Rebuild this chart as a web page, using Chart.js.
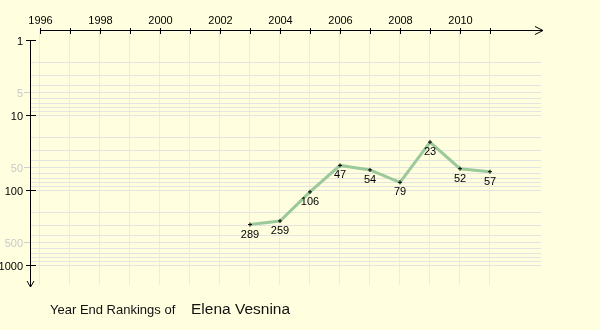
<!DOCTYPE html>
<html>
<head>
<meta charset="utf-8">
<title>Year End Rankings of Elena Vesnina</title>
<script src="https://cdn.jsdelivr.net/npm/chart.js@4/dist/chart.umd.min.js"></script>
<style>
  html, body { margin: 0; padding: 0; background: #ffffe0; }
  canvas { display: block; }
</style>
</head>
<body>
<canvas id="chart" width="600" height="330"></canvas>
<script>
// Year-end singles ranking by season
const years = [2003, 2004, 2005, 2006, 2007, 2008, 2009, 2010, 2011];
const ranks = [289, 259, 106, 47, 54, 79, 23, 52, 57];

// Axis ticks
const yearTicks = [1996, 1997, 1998, 1999, 2000, 2001, 2002, 2003, 2004, 2005, 2006, 2007, 2008, 2009, 2010, 2011];
const yearLabels = [1996, 1998, 2000, 2002, 2004, 2006, 2008, 2010];
const majorRanks = [1, 10, 100, 1000];
const minorRanks = [5, 50, 500];
const gridRanks = [2, 3, 4, 5, 6, 7, 8, 9, 10, 20, 30, 40, 50, 60, 70, 80, 90,
                   100, 200, 300, 400, 500, 600, 700, 800, 900, 1000];

const titleText = 'Year End Rankings of';
const playerName = 'Elena Vesnina';

const BG = '#ffffe0';
const FONT = '"Liberation Sans", Arial, sans-serif';

const background = {
  id: 'background',
  beforeDraw(chart) {
    const ctx = chart.ctx;
    ctx.save();
    ctx.fillStyle = BG;
    ctx.fillRect(0, 0, chart.width, chart.height);
    ctx.restore();
  }
};

// Axis lines with arrowheads, tick marks and tick labels
const axes = {
  id: 'axes',
  afterDraw(chart) {
    const ctx = chart.ctx;
    const xs = chart.scales.x, ys = chart.scales.y;
    const px = v => Math.round(xs.getPixelForValue(v)) + 0.5;
    const py = v => Math.round(ys.getPixelForValue(v)) + 0.5;
    const axisY = 30.5, axisX = 30.5;
    ctx.save();
    ctx.strokeStyle = '#000';
    ctx.lineWidth = 1;

    // top year axis
    ctx.beginPath();
    ctx.moveTo(px(1996), axisY);
    ctx.lineTo(543, axisY);
    ctx.moveTo(535, 26.5);
    ctx.lineTo(543, axisY);
    ctx.lineTo(535, 34.5);
    yearTicks.forEach(y => {
      ctx.moveTo(px(y), 28);
      ctx.lineTo(px(y), 34);
    });
    ctx.stroke();

    ctx.fillStyle = '#000';
    ctx.font = '11px ' + FONT;
    ctx.textAlign = 'center';
    ctx.textBaseline = 'alphabetic';
    yearLabels.forEach(y => ctx.fillText(String(y), px(y), 24));

    // left rank axis (reversed log)
    ctx.beginPath();
    ctx.moveTo(axisX, py(1));
    ctx.lineTo(axisX, 287);
    ctx.moveTo(27, 281);
    ctx.lineTo(axisX, 287);
    ctx.lineTo(34, 281);
    majorRanks.forEach(r => {
      ctx.moveTo(26, py(r));
      ctx.lineTo(36, py(r));
    });
    ctx.stroke();

    ctx.strokeStyle = '#cfcfcf';
    ctx.beginPath();
    minorRanks.forEach(r => {
      ctx.moveTo(24, py(r));
      ctx.lineTo(30, py(r));
    });
    ctx.stroke();

    ctx.textAlign = 'right';
    majorRanks.forEach(r => {
      ctx.fillStyle = '#000';
      ctx.fillText(String(r), 23, py(r) + 4);
    });
    minorRanks.forEach(r => {
      ctx.fillStyle = '#c8c8c8';
      ctx.fillText(String(r), 23, py(r) + 4);
    });

    // caption
    ctx.fillStyle = '#111';
    ctx.textAlign = 'left';
    ctx.font = '13px ' + FONT;
    ctx.fillText(titleText, 50, 314);
    ctx.font = '15.5px ' + FONT;
    ctx.fillText(playerName, 191, 314);
    ctx.restore();
  }
};

// Rank value under each point
const valueLabels = {
  id: 'valueLabels',
  afterDatasetsDraw(chart) {
    const ctx = chart.ctx;
    const meta = chart.getDatasetMeta(0);
    ctx.save();
    ctx.fillStyle = '#000';
    ctx.font = '11px ' + FONT;
    ctx.textAlign = 'center';
    ctx.textBaseline = 'alphabetic';
    meta.data.forEach((pt, i) => {
      ctx.fillText(String(ranks[i]), pt.x, pt.y + 13);
    });
    ctx.restore();
  }
};

new Chart(document.getElementById('chart'), {
  type: 'line',
  data: {
    datasets: [{
      data: years.map((y, i) => ({ x: y, y: ranks[i] })),
      borderColor: '#9bc99a',
      borderWidth: 3,
      tension: 0,
      pointStyle: 'cross',
      pointRadius: 2,
      pointBorderColor: '#000',
      pointBackgroundColor: '#000',
      pointBorderWidth: 1,
      clip: false
    }]
  },
  options: {
    responsive: false,
    animation: false,
    devicePixelRatio: 1,
    layout: { padding: { left: 30, right: 59, top: 31, bottom: 45 } },
    plugins: { legend: { display: false }, tooltip: { enabled: false } },
    scales: {
      x: {
        type: 'linear',
        min: 1996 - 10 / 30,
        max: 1996 + 501 / 30,
        bounds: 'data',
        border: { display: false },
        ticks: { display: false },
        grid: { drawTicks: false, color: '#ebebeb', lineWidth: 1 },
        afterBuildTicks: s => { s.ticks = yearTicks.map(v => ({ value: v })); }
      },
      y: {
        type: 'logarithmic',
        reverse: true,
        min: Math.pow(10, -9 / 75),
        max: Math.pow(10, 245 / 75),
        bounds: 'data',
        border: { display: false },
        ticks: { display: false },
        grid: { drawTicks: false, color: '#e4e4e0', lineWidth: 1 },
        afterBuildTicks: s => { s.ticks = gridRanks.map(v => ({ value: v })); }
      }
    }
  },
  plugins: [background, axes, valueLabels]
});
</script>
</body>
</html>
